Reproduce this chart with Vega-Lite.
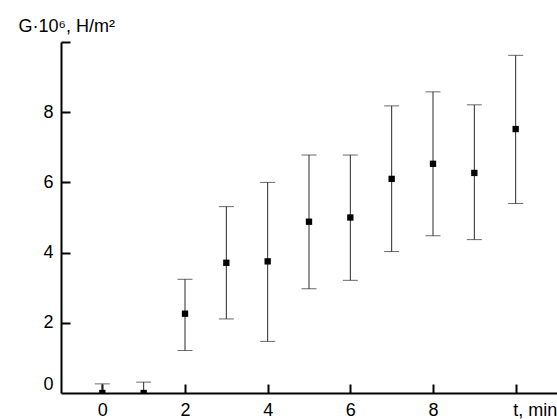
{
  "$schema": "https://vega.github.io/schema/vega-lite/v6.json",
  "width": 496,
  "height": 351,
  "autosize": {"type": "none"},
  "padding": {"left": 61, "top": 42, "right": 0, "bottom": 26},
  "background": "white",
  "config": {
    "view": {"stroke": null},
    "font": "Liberation Sans",
    "axis": {
      "grid": false,
      "domainColor": "black",
      "domainWidth": 2,
      "tickColor": "black",
      "tickWidth": 2,
      "labelFont": "Liberation Sans",
      "labelFontSize": 18,
      "labelColor": "black",
      "titleFont": "Liberation Sans",
      "titleFontSize": 18,
      "titleFontWeight": "normal",
      "titleColor": "black",
      "labelOverlap": false
    }
  },
  "data": {
    "values": [
      {"t": 0, "g": 0.0, "lo": -0.2, "hi": 0.26},
      {"t": 1, "g": 0.0, "lo": -0.2, "hi": 0.31},
      {"t": 2, "g": 2.26, "lo": 1.21, "hi": 3.24},
      {"t": 3, "g": 3.71, "lo": 2.11, "hi": 5.31},
      {"t": 4, "g": 3.75, "lo": 1.47, "hi": 6.0},
      {"t": 5, "g": 4.88, "lo": 2.97, "hi": 6.78},
      {"t": 6, "g": 5.0, "lo": 3.21, "hi": 6.78},
      {"t": 7, "g": 6.1, "lo": 4.03, "hi": 8.18},
      {"t": 8, "g": 6.53, "lo": 4.48, "hi": 8.58},
      {"t": 9, "g": 6.27, "lo": 4.37, "hi": 8.21},
      {"t": 10, "g": 7.52, "lo": 5.4, "hi": 9.62}
    ]
  },
  "resolve": {"axis": {"x": "independent", "y": "independent"}},
  "layer": [
    {
      "mark": {"type": "rule", "color": "#2a2a2a", "strokeWidth": 1, "clip": true},
      "encoding": {
        "x": {
          "field": "t",
          "type": "quantitative",
          "scale": {"domain": [-1, 11], "nice": false, "zero": false},
          "axis": {
            "orient": "bottom",
            "title": null,
            "values": [0, 2, 4, 6, 8, 10],
            "ticks": false,
            "labelFlush": false,
            "labelPadding": 8,
            "labelExpr": "datum.value == 10 ? 't, min' : datum.label",
            "labelAlign": {"condition": {"test": "datum.value == 10", "value": "left"}, "value": "center"},
            "labelOffset": {"condition": {"test": "datum.value == 10", "value": -3}, "value": 0}
          }
        },
        "y": {
          "field": "lo",
          "type": "quantitative",
          "scale": {"domain": [0, 10], "nice": false},
          "axis": {
            "orient": "left",
            "title": "G·10⁶, H/m²",
            "titleAngle": 0,
            "titleAlign": "left",
            "titleBaseline": "alphabetic",
            "titleX": -43,
            "titleY": -11,
            "values": [0, 2, 4, 6, 8, 10],
            "ticks": false,
            "labelExpr": "datum.value == 10 ? '' : datum.label",
            "labelFlush": true,
            "labelPadding": 8
          }
        },
        "y2": {"field": "hi"}
      }
    },
    {
      "mark": {"type": "tick", "orient": "horizontal", "color": "#2a2a2a", "size": 15, "thickness": 1, "clip": true},
      "encoding": {
        "x": {
          "field": "t",
          "type": "quantitative",
          "axis": {
            "orient": "bottom",
            "title": null,
            "values": [0, 2, 4, 6, 8, 10],
            "domain": false,
            "labels": false,
            "ticks": true,
            "tickSize": 9,
            "offset": -9
          }
        },
        "y": {
          "field": "hi",
          "type": "quantitative",
          "axis": {
            "orient": "left",
            "title": null,
            "values": [2, 4, 6, 8, 10],
            "domain": false,
            "labels": false,
            "ticks": true,
            "tickSize": 9,
            "offset": -9
          }
        }
      }
    },
    {
      "mark": {"type": "tick", "orient": "horizontal", "color": "#2a2a2a", "size": 15, "thickness": 1, "clip": true},
      "encoding": {
        "x": {"field": "t", "type": "quantitative", "axis": null},
        "y": {"field": "lo", "type": "quantitative", "axis": null}
      }
    },
    {
      "mark": {"type": "square", "color": "black", "opacity": 1, "filled": true, "size": 40, "clip": true},
      "encoding": {
        "x": {"field": "t", "type": "quantitative", "axis": null},
        "y": {"field": "g", "type": "quantitative", "axis": null}
      }
    }
  ]
}
